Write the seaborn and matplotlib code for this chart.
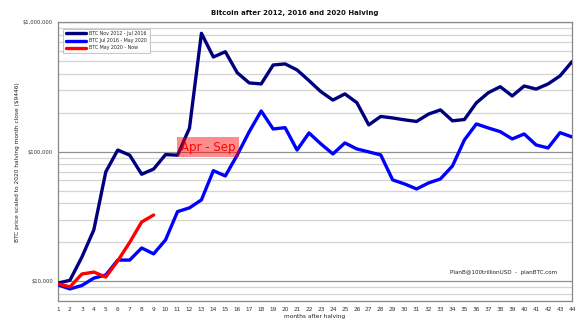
import matplotlib
matplotlib.use("Agg")
import matplotlib.pyplot as plt
import matplotlib.ticker as mticker
import numpy as np
import pandas as pd
import seaborn as sns

# Monthly closes after each halving, scaled to the 2020 halving month close ($9446)
months_2012 = list(range(1, 45))
btc_2012 = [9700, 10200, 15400, 25000, 70000, 103000, 94000, 67000, 73500, 95000,
            94000, 152000, 818000, 537000, 590000, 406000, 339000, 333000, 466000, 475000,
            427000, 353000, 290000, 250000, 279000, 239000, 161000, 187000, 182000, 176000,
            171000, 195000, 210000, 173000, 177000, 238000, 285000, 317000, 269000, 321000,
            304000, 333000, 384000, 494000]

months_2016 = list(range(1, 45))
btc_2016 = [9400, 8750, 9300, 10600, 11200, 14600, 14600, 18100, 16300, 20900,
            34500, 36900, 42500, 71400, 65000, 94400, 142700, 206000, 149700, 153200,
            103000, 139500, 114700, 96100, 116800, 105000, 99600, 94400, 60600, 56400,
            51600, 57400, 61700, 77600, 123200, 163600, 152400, 142700, 125400, 137000,
            112700, 106900, 140200, 130000]

months_2020 = list(range(1, 10))
btc_2020 = [9570, 9070, 11400, 11800, 10800, 14400, 20000, 28700, 32500]

series_names = ["BTC Nov 2012 - Jul 2016", "BTC Jul 2016 - May 2020", "BTC May 2020 - Now"]
series_colors = ["#00007f", "#0000ff", "#ff0000"]

df = pd.concat([
    pd.DataFrame({"month": months_2012, "price": btc_2012, "series": series_names[0]}),
    pd.DataFrame({"month": months_2016, "price": btc_2016, "series": series_names[1]}),
    pd.DataFrame({"month": months_2020, "price": btc_2020, "series": series_names[2]}),
], ignore_index=True)

sns.set_theme(style="white")
plt.rcParams["font.family"] = ["DejaVu Sans"]

fig = plt.figure(figsize=(5.77, 3.22), dpi=100)
ax = fig.add_axes([0.1005, 0.0637, 0.8908, 0.868])

sns.lineplot(data=df, x="month", y="price", hue="series", hue_order=series_names,
             palette=dict(zip(series_names, series_colors)), linewidth=2.4,
             sort=False, ax=ax, legend=False, zorder=3)

ax.set_yscale("log")
ax.set_xlim(1, 44)
ax.set_ylim(7000, 1_000_000)

# grid: light minor lines, darker decade lines
ax.yaxis.set_major_locator(mticker.FixedLocator([10_000, 100_000, 1_000_000]))
ax.yaxis.set_minor_locator(mticker.LogLocator(base=10, subs=np.arange(2, 10)))
ax.yaxis.set_minor_formatter(mticker.NullFormatter())
ax.yaxis.set_major_formatter(mticker.FuncFormatter(lambda v, p: f"${v:,.0f}"))
ax.grid(which="major", axis="y", color="#909090", linewidth=0.9, zorder=0)
ax.grid(which="minor", axis="y", color="#d4d4d4", linewidth=0.9, zorder=0)
ax.grid(which="major", axis="x", visible=False)

ax.set_xticks(range(1, 45))
ax.tick_params(axis="x", labelsize=4.2, length=2, width=0.6, color="#666666", pad=2)
ax.tick_params(axis="y", which="major", labelsize=3.8, length=2.5, width=0.6, color="#666666", pad=1)
ax.tick_params(axis="y", which="minor", length=0)
ax.tick_params(colors="#333333", which="both")
for s in ax.spines.values():
    s.set_color("#888888")
    s.set_linewidth(0.9)

ax.set_xlabel("months after halving", fontsize=4.2, color="#222222", labelpad=1.5)
ax.set_ylabel("BTC price scaled to 2020 halving month close ($9446)", fontsize=4.2,
              color="#222222")
ax.yaxis.set_label_coords(-0.074, 0.5)

handles = [plt.Line2D([], [], color=c, linewidth=2.4) for c in series_colors]
leg = ax.legend(handles, series_names, loc="upper left", fontsize=3.4, frameon=True,
                handlelength=4.2, borderpad=0.55, labelspacing=0.45, handletextpad=0.7,
                bbox_to_anchor=(0.006, 0.985), fancybox=False)
leg.get_frame().set_edgecolor("#aaaaaa")
leg.get_frame().set_linewidth(0.6)

ax.text(13.55, 108000, "Apr - Sep", color="red", fontsize=8.5, ha="center", va="center",
        bbox=dict(facecolor="#ff0000", alpha=0.45, edgecolor="none", pad=2.5), zorder=4)

ax.text(42.75, 11700, "PlanB@100trillionUSD  -  planBTC.com", fontsize=4.1,
        color="#222222", ha="right", va="center", zorder=4)

fig.text(0.511, 1 - 13 / 322, "Bitcoin after 2012, 2016 and 2020 Halving",
         fontsize=5.0, fontweight="bold", ha="center", va="center", color="#111111")

fig.savefig("out.png", dpi=100)
